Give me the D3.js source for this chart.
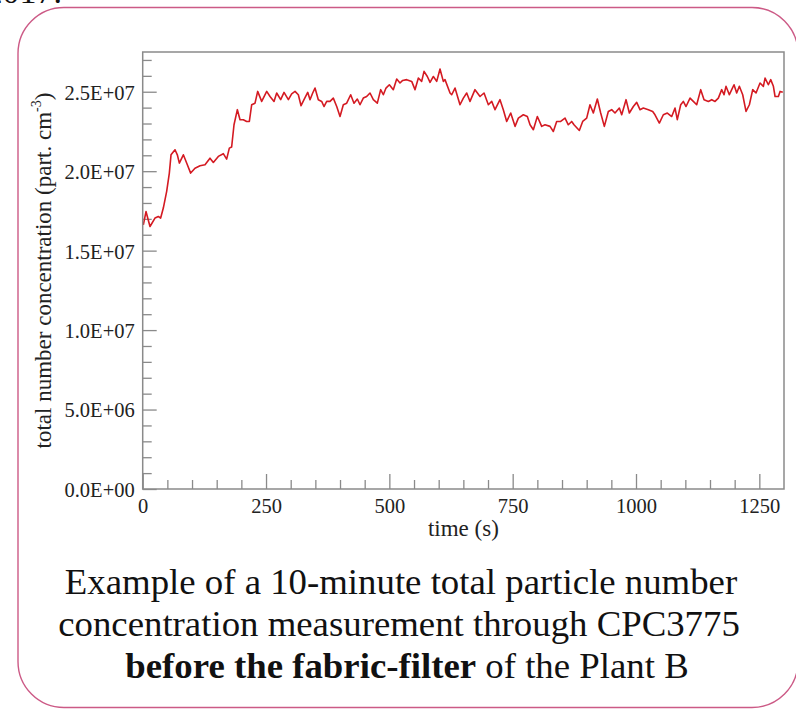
<!DOCTYPE html>
<html>
<head>
<meta charset="utf-8">
<script src="https://cdn.jsdelivr.net/npm/d3@7"></script>
<style>
  html, body { margin: 0; padding: 0; background: #fff; }
  svg { display: block; }
  text { font-family: "Liberation Serif", serif; }
</style>
</head>
<body>
<svg id="chart" width="796" height="711"></svg>
<script>
// time (s)
const times = [
  1.3, 6.7, 14.8, 24.9, 31.7, 36.4, 41.8, 48.6, 54, 57.4, 65.5, 70.2, 74.3, 82.4, 89.1, 97.2,
  106, 116.2, 126.3, 136.4, 143.2, 153.3, 163.4, 170.2, 175.6, 180.3, 185.1, 191.9, 197.3, 204,
  210.8, 216.2, 220.9, 227.7, 233.1, 241.2, 251.4, 258.1, 266.2, 271.6, 279.7, 286.5, 295.3, 302,
  308.8, 315.5, 321, 327, 334.5, 339.2, 344.6, 349.3, 356, 362.8, 367.5, 373, 379.7, 386.4, 393.3,
  400, 406.7, 413.5, 421.6, 428.3, 435.1, 440.5, 447.2, 454, 460.8, 467.5, 475.6, 482.4, 487.8,
  493.2, 500, 508, 514.9, 521.6, 527, 535.1, 545.3, 552, 558.8, 565.5, 570.3, 577, 582.5, 589.2,
  596, 602.7, 609.4,
  612.8, 623, 626.4, 633.1, 643.2, 650, 656.8, 663.5, 673.6, 683.8, 691.9, 700.7, 707.5, 714.2,
  724.3, 731, 737.9, 746, 754.8, 761.5, 771.6, 779.7, 785.2, 791.9, 800, 808.8, 815.5, 825.7,
  832.4, 839.2, 847.3, 856.1, 862.8, 869.6, 874.3, 885.1, 891.9, 900, 906.7, 913.5, 921.6, 928.4,
  935.8, 943.9, 950.7, 957.4, 966.2, 971, 979.8, 986.5, 994.6, 1001.4, 1008.1, 1014.8, 1025,
  1033.8, 1038.5, 1047.3, 1055.4, 1063.5, 1072.4, 1079.1, 1083.7, 1090.6, 1095.9, 1101.4, 1109.5,
  1116.2, 1123, 1131.2, 1137.9, 1146.7, 1153.5, 1160.2, 1166.9, 1173.7, 1178.4, 1182.4, 1189.2,
  1194, 1198.7, 1204.1, 1209.5, 1216.3, 1223, 1229.8, 1236.6, 1243.3, 1251.4, 1258.2, 1261.6,
  1268.3, 1273.1, 1278.5, 1281.9, 1288.6, 1292, 1297.5
];
// total number concentration, in millions of part. cm^-3
const concMillions = [
  16.62, 17.46, 16.52, 17.05, 17.15, 17.05, 17.68, 18.73, 19.88, 21.03, 21.35, 21.03, 20.51, 21.03, 20.51, 19.88,
  20.19, 20.34, 20.40, 20.82, 20.55, 20.93, 21.10, 20.76, 21.45, 21.52, 22.92, 23.87, 23.24, 23.24,
  23.13, 23.13, 24.18, 24.28, 25.02, 24.39, 25.02, 24.70, 24.39, 24.92, 24.50, 24.96, 24.50, 24.87,
  25.02, 24.81, 24.12, 24.50, 24.96, 24.50, 24.92, 25.23, 24.50, 24.39, 24.07, 24.39, 24.39, 24.60, 24.07,
  23.44, 24.18, 24.28, 24.81, 24.28, 24.54, 24.18, 24.60, 24.70, 24.92, 24.50, 24.28, 25.13, 24.81,
  25.23, 25.44, 25.13, 25.80, 25.55, 25.71, 25.76, 25.65, 25.13, 25.86, 25.65, 26.28, 25.96, 25.59, 25.96,
  25.65, 26.43, 25.65,
  25.76, 24.92, 24.81, 25.23, 24.18, 24.60, 24.92, 24.39, 25.13, 24.70, 24.92, 24.18, 24.39, 23.87,
  24.50, 23.87, 23.13, 23.66, 22.82, 23.34, 23.55, 23.44, 22.92, 22.61, 23.44, 22.82, 22.92, 22.82,
  22.50, 23.13, 23.13, 23.34, 22.92, 23.13, 22.92, 22.56, 23.13, 23.34, 24.18, 23.66, 24.54, 23.66,
  22.82, 23.76, 23.87, 23.66, 23.97, 23.55, 24.50, 23.66, 24.07, 24.33, 23.87, 23.97, 23.87,
  23.76, 23.55, 23.03, 23.55, 23.66, 23.44, 23.97, 23.24, 24.18, 24.39, 24.07, 24.60,
  24.39, 24.18, 25.13, 24.50, 24.39, 24.50, 24.39, 24.60, 25.13, 24.81, 25.34, 24.81,
  25.13, 25.44, 24.92, 25.34, 24.81, 23.76, 24.18, 25.13, 24.92, 25.55, 25.34, 25.86,
  25.44, 25.76, 25.34, 24.70, 24.70, 25.02, 24.96
];
const xMajorTicks = [0, 250, 500, 750, 1000, 1250];
const yMajorTicks = [0, 5, 10, 15, 20, 25];   // millions
const xLabel = "time (s)";
const yLabelMain = "total number concentration (part. cm";
const yLabelSup = "-3";
const captionLine1 = "Example of a 10-minute total particle number";
const captionLine2 = "concentration measurement through CPC3775";
const captionLine3Bold = "before the fabric-filter";
const captionLine3Rest = " of the Plant B";

const svg = d3.select("#chart");
const serif = "Liberation Serif";

// Pink rounded frame
svg.append("rect")
  .attr("x", 18).attr("y", 7.5).attr("width", 780).attr("height", 700)
  .attr("rx", 46).attr("ry", 46)
  .attr("fill", "none").attr("stroke", "#cc5a86").attr("stroke-width", 1.4);

// clipped leftover text at the very top (cut off in the original too)
svg.append("text").attr("x", 62).attr("y", 3).attr("text-anchor", "end")
  .style("font-family", serif).attr("font-size", 34).attr("fill", "#111").text("2017.");

const m = { left: 142.7, top: 52, right: 784, bottom: 489 };
const x = d3.scaleLinear().domain([0, 1300]).range([m.left, m.right]);
const y = d3.scaleLinear().domain([0, 27.5]).range([m.bottom, m.top]);

function sciFmt(vMillions) {
  const v = vMillions * 1e6;
  const s = v.toExponential(1);            // e.g. "2.5e+7"
  const [mant, exp] = s.split("e");
  const sign = exp[0] === "-" ? "-" : "+";
  const digits = exp.replace(/[+-]/, "").padStart(2, "0");
  return mant + "E" + sign + digits;
}

const axisColor = "#8a8a8a";

// minor ticks
const xMinor = d3.range(0, 1300, 50).filter(d => !xMajorTicks.includes(d));
const yMinor = d3.range(0, 28, 1).filter(d => !yMajorTicks.includes(d));

const gxMinor = svg.append("g").attr("transform", `translate(0,${m.bottom})`)
  .call(d3.axisBottom(x).tickValues(xMinor).tickSize(-9).tickFormat(""));
const gyMinor = svg.append("g").attr("transform", `translate(${m.left},0)`)
  .call(d3.axisLeft(y).tickValues(yMinor).tickSize(-9).tickFormat(""));

const gx = svg.append("g").attr("transform", `translate(0,${m.bottom})`)
  .call(d3.axisBottom(x).tickValues(xMajorTicks).tickSize(-15).tickPadding(9).tickFormat(d3.format("d")));
const gy = svg.append("g").attr("transform", `translate(${m.left},0)`)
  .call(d3.axisLeft(y).tickValues(yMajorTicks).tickSize(-14).tickPadding(8).tickFormat(sciFmt));

[gxMinor, gyMinor, gx, gy].forEach(g => {
  g.attr("font-family", null);
  g.select(".domain").remove();
  g.selectAll(".tick line").attr("stroke", axisColor).attr("stroke-width", 1.3);
  g.selectAll(".tick text").style("font-family", serif).attr("font-size", 20.5).attr("fill", "#222");
});
gy.selectAll(".tick text").attr("dy", "0.36em");

// data line
const pts = times.map((t, i) => [t, concMillions[i]]);
svg.append("path")
  .datum(pts)
  .attr("fill", "none")
  .attr("stroke", "#d41a22")
  .attr("stroke-width", 1.6)
  .attr("stroke-linejoin", "round")
  .attr("d", d3.line().x(d => x(d[0])).y(d => y(d[1])));

// plot frame
svg.append("rect")
  .attr("x", m.left).attr("y", m.top)
  .attr("width", m.right - m.left).attr("height", m.bottom - m.top)
  .attr("fill", "none").attr("stroke", axisColor).attr("stroke-width", 1.5);

// axis titles
svg.append("text")
  .attr("x", (m.left + m.right) / 2).attr("y", 536)
  .attr("text-anchor", "middle")
  .style("font-family", serif).attr("font-size", 23).attr("fill", "#222")
  .text(xLabel);

const yt = svg.append("text")
  .attr("transform", `translate(51,${(m.top + m.bottom) / 2}) rotate(-90)`)
  .attr("text-anchor", "middle")
  .style("font-family", serif).attr("font-size", 23).attr("fill", "#222");
yt.append("tspan").text(yLabelMain);
yt.append("tspan").attr("font-size", 14).attr("dy", -10).text(yLabelSup);
yt.append("tspan").attr("dy", 10).text(")");

// caption
const capStyle = sel => sel.style("font-family", serif).attr("font-size", 36.8)
  .attr("fill", "#111").attr("text-anchor", "middle");
svg.append("text").call(capStyle).attr("x", 401).attr("y", 594).text(captionLine1);
svg.append("text").call(capStyle).attr("x", 399).attr("y", 636).text(captionLine2);
const l3 = svg.append("text").call(capStyle).attr("x", 407).attr("y", 678);
l3.append("tspan").attr("font-weight", "bold").text(captionLine3Bold);
l3.append("tspan").text(captionLine3Rest);
</script>
</body>
</html>
